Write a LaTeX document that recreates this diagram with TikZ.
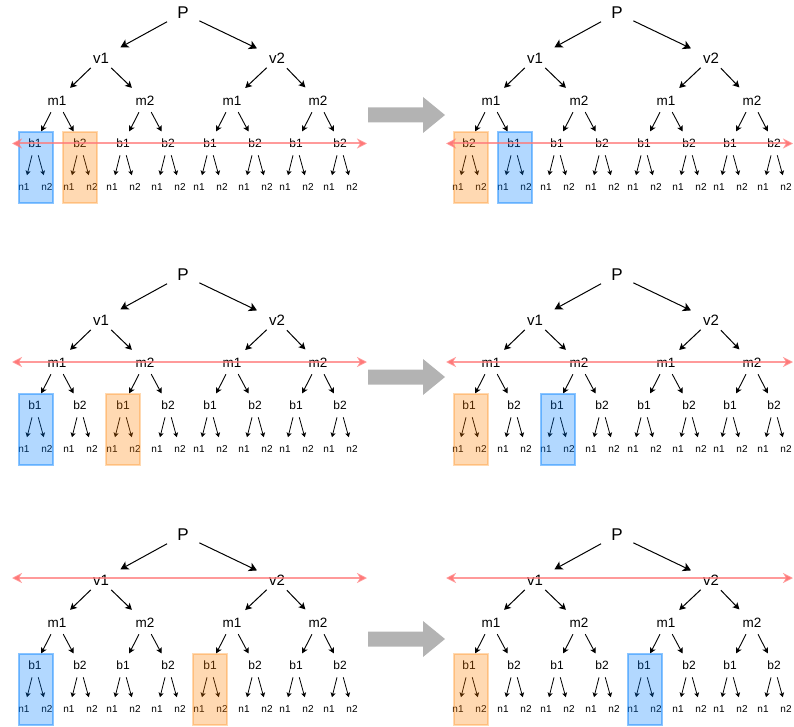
\documentclass[tikz,border=0pt]{standalone}
\usepackage{fontspec}
\setmainfont{Liberation Sans}
\usetikzlibrary{arrows.meta}
\definecolor{hlblue}{RGB}{0,127,255}
\definecolor{hlorange}{RGB}{255,128,0}
\definecolor{redline}{RGB}{255,120,120}
\definecolor{grayarrow}{RGB}{179,179,179}
\tikzset{
  lbl/.style={circle, inner sep=0pt, text=black},
  lvP/.style={lbl, minimum size=36pt, font=\fontsize{17}{17}\selectfont},
  lvV/.style={lbl, minimum size=28pt, font=\fontsize{15}{15}\selectfont},
  lvM/.style={lbl, minimum size=26pt, font=\fontsize{13.5}{13.5}\selectfont},
  lvB/.style={lbl, minimum size=24pt, font=\fontsize{12}{12}\selectfont},
  lvN/.style={lbl, minimum size=24pt, font=\fontsize{10}{10}\selectfont},
  eP/.style={-{Stealth[length=8pt,width=9pt,inset=2pt]}, line width=1pt, shorten >=8pt},
  eV/.style={-{Stealth[length=6.5pt,width=7pt,inset=1.5pt]}, line width=1pt, shorten >=5pt},
  eM/.style={-{Stealth[length=5.5pt,width=6pt,inset=1.2pt]}, line width=0.9pt, shorten >=1.5pt},
  eB/.style={-{Stealth[length=4.5pt,width=5pt,inset=1pt]}, line width=0.8pt},
  bluebox/.style={draw=hlblue, draw opacity=0.45, fill=hlblue, fill opacity=0.3, line width=1.5pt},
  orangebox/.style={draw=hlorange, draw opacity=0.3, fill=hlorange, fill opacity=0.3, line width=1.5pt},
  swapline/.style={draw=redline, draw opacity=0.75, line width=2pt,
    {Stealth[length=10pt,width=10pt,inset=3pt]}-{Stealth[length=10pt,width=10pt,inset=3pt]}},
  bigarrow/.style={fill=grayarrow, draw=none}
}
% #1 prefix, #2 x offset, #3 y offset, #4 first b label, #5 second b label
\newcommand\mytree[5]{%
\begin{scope}[shift={(#2,#3)}]
  \node[lvP] (#1P) at (183,13) {P};
  \node[lvV] (#1v1) at (101,58) {v1};
  \node[lvV] (#1v2) at (277,58) {v2};
  \foreach \i/\x/\l in {1/57/m1,2/145/m2,3/232/m1,4/318/m2}
    \node[lvM] (#1m\i) at (\x,100.5) {\l};
  \foreach \i/\x/\l in {1/35/#4,2/80/#5,3/123/b1,4/168/b2,5/210/b1,6/255/b2,7/296/b1,8/340/b2}{
    \node[lvB] (#1b\i) at (\x,143.5) {\l};
    \node[lvN] (#1na\i) at (\x-11,187) {n1};
    \node[lvN] (#1nb\i) at (\x+12,187) {n2};
  }
  \draw[eP] (#1P) -- (#1v1);
  \draw[eP] (#1P) -- (#1v2);
  \foreach \i/\p in {1/1,2/1,3/2,4/2}
    \draw[eV] (#1v\p) -- (#1m\i);
  \foreach \i/\p in {1/1,2/1,3/2,4/2,5/3,6/3,7/4,8/4}
    \draw[eM] (#1m\p) -- (#1b\i);
  \foreach \i in {1,...,8}{
    \draw[eB] (#1b\i) -- (#1na\i);
    \draw[eB] (#1b\i) -- (#1nb\i);
  }
\end{scope}}
% #1 style, #2 x centre, #3 y offset
\newcommand\hlbox[3]{\draw[#1] ({#2-17},{#3+132}) rectangle ({#2+17},{#3+203});}
% #1 name, #2 y offset
\newcommand\grayarr[2]{%
  \path[bigarrow] (368,{#2+107.5}) -- (423,{#2+107.5}) -- (423,{#2+97}) -- (445,{#2+115})
    -- (423,{#2+133}) -- (423,{#2+122.5}) -- (368,{#2+122.5}) -- cycle;
  \coordinate (#1) at (406,{#2+115});}
\begin{document}
\begin{tikzpicture}[x=1pt,y=-1pt]
\useasboundingbox (0,0) rectangle (794,727);
% panel 1
\mytree{A}{0}{0}{b1}{b2}
\mytree{B}{434}{0}{b2}{b1}
% panel 2
\mytree{C}{0}{262}{b1}{b2}
\mytree{D}{434}{262}{b1}{b2}
% panel 3
\mytree{E}{0}{522}{b1}{b2}
\mytree{F}{434}{522}{b1}{b2}
% highlight boxes
\hlbox{bluebox}{36}{0}
\hlbox{orangebox}{80}{0}
\hlbox{orangebox}{471}{0}
\hlbox{bluebox}{515}{0}
\hlbox{bluebox}{36}{262}
\hlbox{orangebox}{123}{262}
\hlbox{orangebox}{471}{262}
\hlbox{bluebox}{558}{262}
\hlbox{bluebox}{36}{522}
\hlbox{orangebox}{210}{522}
\hlbox{orangebox}{471}{522}
\hlbox{bluebox}{645}{522}
% swap lines
\coordinate (a1) at (12,143.5);  \coordinate (a2) at (367,143.5);
\coordinate (b1) at (446,143.5); \coordinate (b2) at (793,143.5);
\coordinate (c1) at (12,362);    \coordinate (c2) at (367,362);
\coordinate (d1) at (446,362);   \coordinate (d2) at (793,362);
\coordinate (e1) at (12,578);    \coordinate (e2) at (367,578);
\coordinate (f1) at (446,578);   \coordinate (f2) at (793,578);
\draw[swapline] (a1) -- (a2);
\draw[swapline] (b1) -- (b2);
\draw[swapline] (c1) -- (c2);
\draw[swapline] (d1) -- (d2);
\draw[swapline] (e1) -- (e2);
\draw[swapline] (f1) -- (f2);
% big gray arrows
\grayarr{g1}{0}
\grayarr{g2}{262}
\grayarr{g3}{524}
\end{tikzpicture}
\end{document}
